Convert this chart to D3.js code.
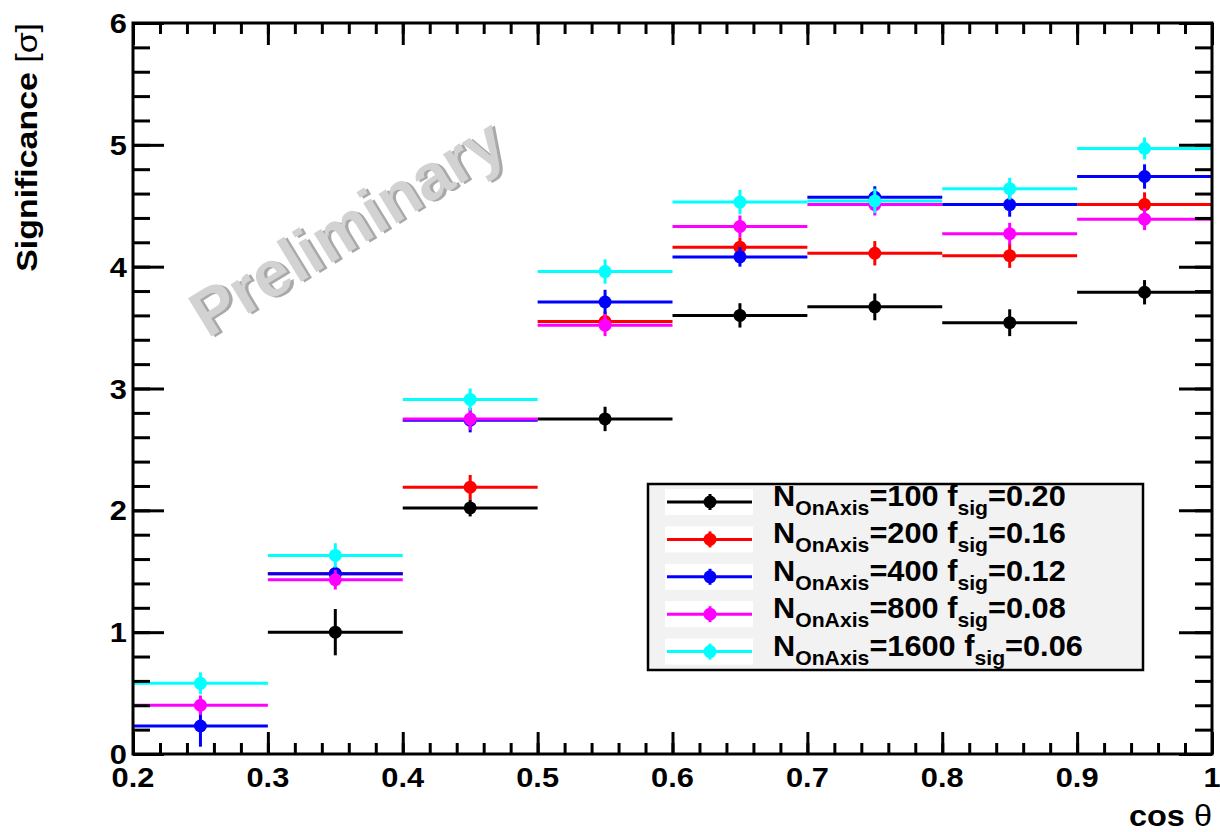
<!DOCTYPE html>
<html>
<head>
<meta charset="utf-8">
<script src="https://cdn.jsdelivr.net/npm/d3@7"></script>
<style>
html,body{margin:0;padding:0;background:#fff;}
svg{display:block;font-family:"Liberation Sans",Arial,sans-serif;}
</style>
</head>
<body>
<svg id="chart" width="1220" height="832"></svg>
<script>
// ---- data ----
const binLow  = [0.2, 0.3, 0.4, 0.5, 0.6, 0.7, 0.8, 0.9];
const binHigh = [0.3, 0.4, 0.5, 0.6, 0.7, 0.8, 0.9, 1.0];
const seriesNOnAxis = ["100", "200", "400", "800", "1600"];
const seriesFsig    = ["0.20", "0.16", "0.12", "0.08", "0.06"];
const seriesColors  = ["#000000", "#ff0000", "#0000ff", "#ff00ff", "#00ffff"];
const sig100   = [null, 1.00, 2.02, 2.75, 3.60, 3.67, 3.54, 3.79];
const err100   = [null, 0.19, 0.07, 0.10, 0.10, 0.11, 0.11, 0.10];
const sig200   = [null, 1.48, 2.19, 3.55, 4.16, 4.11, 4.09, 4.51];
const err200   = [null, 0.06, 0.10, 0.08, 0.08, 0.10, 0.10, 0.10];
const sig400   = [0.23, 1.48, 2.74, 3.71, 4.08, 4.57, 4.51, 4.74];
const err400   = [0.17, 0.06, 0.10, 0.10, 0.08, 0.09, 0.10, 0.10];
const sig800   = [0.40, 1.43, 2.75, 3.52, 4.33, 4.51, 4.27, 4.39];
const err800   = [0.08, 0.08, 0.09, 0.09, 0.09, 0.09, 0.09, 0.09];
const sig1600  = [0.58, 1.63, 2.91, 3.96, 4.53, 4.54, 4.64, 4.97];
const err1600  = [0.09, 0.10, 0.09, 0.10, 0.10, 0.10, 0.09, 0.09];
const xTickLabels = ["0.2","0.3","0.4","0.5","0.6","0.7","0.8","0.9","1"];
const yTickLabels = ["0","1","2","3","4","5","6"];

const seriesValues = [sig100, sig200, sig400, sig800, sig1600];
const seriesErrors = [err100, err200, err400, err800, err1600];

// ---- layout ----
const L = 133, R = 1212, T = 23, B = 754;
const svg = d3.select("#chart");
const x = d3.scaleLinear().domain([0.2, 1.0]).range([L, R]);
const y = d3.scaleLinear().domain([0, 6]).range([B, T]);

// watermark
const wm = svg.append("g").attr("transform", "translate(347,227) rotate(-31.5)");
wm.append("text").attr("x", 2.5).attr("y", 2.5)
  .attr("text-anchor", "middle").attr("dominant-baseline", "central")
  .attr("font-size", 65).attr("font-weight", "bold").attr("fill", "#a9a9a9")
  .text("Preliminary");
wm.append("text").attr("x", 0).attr("y", 0)
  .attr("text-anchor", "middle").attr("dominant-baseline", "central")
  .attr("font-size", 65).attr("font-weight", "bold").attr("fill", "#d2d2d2")
  .text("Preliminary");

// data
const plot = svg.append("g");
seriesValues.forEach((vals, si) => {
  const col = seriesColors[si];
  const errs = seriesErrors[si];
  const pts = vals.map((v, i) => ({lo: binLow[i], hi: binHigh[i], v: v, e: errs[i]}))
                  .filter(d => d.v !== null);
  const g = plot.append("g");
  g.selectAll("line.h").data(pts).enter().append("line")
    .attr("x1", d => x(d.lo)).attr("x2", d => x(d.hi))
    .attr("y1", d => y(d.v)).attr("y2", d => y(d.v))
    .attr("stroke", col).attr("stroke-width", 3);
  g.selectAll("line.v").data(pts).enter().append("line")
    .attr("x1", d => x((d.lo + d.hi) / 2)).attr("x2", d => x((d.lo + d.hi) / 2))
    .attr("y1", d => y(d.v - d.e)).attr("y2", d => y(d.v + d.e))
    .attr("stroke", col).attr("stroke-width", 3);
  g.selectAll("circle").data(pts).enter().append("circle")
    .attr("cx", d => x((d.lo + d.hi) / 2)).attr("cy", d => y(d.v))
    .attr("r", 6.5).attr("fill", col);
});

// axes
const tickStyle = sel => sel.selectAll("line").attr("stroke", "#000").attr("stroke-width", 3);
function axisGroup(axis, tx, ty) {
  const g = svg.append("g").attr("transform", `translate(${tx},${ty})`).call(axis);
  g.select(".domain").remove();
  tickStyle(g);
  g.selectAll("text").remove();
  return g;
}
const xMinor = d3.range(0, 41).map(i => 0.2 + i * 0.02);
const xMajor = d3.range(0, 9).map(i => 0.2 + i * 0.1);
const yMinor = d3.range(0, 31).map(i => i * 0.2);
const yMajor = d3.range(0, 7);

axisGroup(d3.axisTop(x).tickValues(xMinor).tickSize(11).tickSizeOuter(0), 0, B);
axisGroup(d3.axisTop(x).tickValues(xMajor).tickSize(22).tickSizeOuter(0), 0, B);
axisGroup(d3.axisBottom(x).tickValues(xMinor).tickSize(11).tickSizeOuter(0), 0, T);
axisGroup(d3.axisBottom(x).tickValues(xMajor).tickSize(22).tickSizeOuter(0), 0, T);
axisGroup(d3.axisRight(y).tickValues(yMinor).tickSize(17).tickSizeOuter(0), L, 0);
axisGroup(d3.axisRight(y).tickValues(yMajor).tickSize(31).tickSizeOuter(0), L, 0);
axisGroup(d3.axisLeft(y).tickValues(yMinor).tickSize(17).tickSizeOuter(0), R, 0);
axisGroup(d3.axisLeft(y).tickValues(yMajor).tickSize(33).tickSizeOuter(0), R, 0);

// frame
svg.append("rect").attr("x", L).attr("y", T).attr("width", R - L).attr("height", B - T)
  .attr("fill", "none").attr("stroke", "#000").attr("stroke-width", 3);

// tick labels (slightly widened glyphs, as in the reference)
svg.append("g").selectAll("text").data(xMajor).enter().append("text")
  .attr("transform", d => `translate(${x(d)},787) scale(1.1,1)`)
  .attr("text-anchor", "middle").attr("font-size", 28).attr("font-weight", "bold")
  .text((d, i) => xTickLabels[i]);
svg.append("g").selectAll("text").data(yMajor).enter().append("text")
  .attr("transform", d => `translate(127,${y(d) + 10}) scale(1.1,1)`)
  .attr("text-anchor", "end").attr("font-size", 28).attr("font-weight", "bold")
  .text((d, i) => yTickLabels[i]);

// axis titles
const xt = svg.append("text").attr("transform", "translate(1212,826) scale(1.12,1)")
  .attr("text-anchor", "end").attr("font-size", 29).attr("font-weight", "bold");
xt.append("tspan").text("cos ");
xt.append("tspan").attr("font-weight", "normal").text("θ");

const yt = svg.append("text").attr("transform", "translate(37,23) rotate(-90) scale(1.13,1)")
  .attr("text-anchor", "end").attr("font-size", 30).attr("font-weight", "bold");
yt.append("tspan").text("Significance ");
yt.append("tspan").attr("font-weight", "normal").text("[σ]");

// legend
const lg = svg.append("g");
lg.append("rect").attr("x", 648).attr("y", 484).attr("width", 495).attr("height", 186)
  .attr("fill", "#f2f2f2").attr("stroke", "#000").attr("stroke-width", 2.5);
const rowY = i => 502 + i * 37.4;
seriesColors.forEach((col, i) => {
  const cy = rowY(i);
  lg.append("rect").attr("x", 665).attr("y", cy - 13).attr("width", 88).attr("height", 26)
    .attr("fill", "#ffffff");
  lg.append("line").attr("x1", 667).attr("x2", 752).attr("y1", cy).attr("y2", cy)
    .attr("stroke", col).attr("stroke-width", 3);
  lg.append("line").attr("x1", 710).attr("x2", 710).attr("y1", cy - 8).attr("y2", cy + 8)
    .attr("stroke", col).attr("stroke-width", 3);
  lg.append("circle").attr("cx", 710).attr("cy", cy).attr("r", 6.5).attr("fill", col);
  const t = lg.append("text").attr("transform", `translate(773,${cy + 4}) scale(1.06,1)`)
    .attr("font-size", 29).attr("font-weight", "bold");
  t.append("tspan").text("N");
  t.append("tspan").attr("dy", 9).attr("font-size", 20).text("OnAxis");
  t.append("tspan").attr("dy", -9).text("=" + seriesNOnAxis[i] + " f");
  t.append("tspan").attr("dy", 9).attr("font-size", 20).text("sig");
  t.append("tspan").attr("dy", -9).text("=" + seriesFsig[i]);
});
</script>
</body>
</html>
